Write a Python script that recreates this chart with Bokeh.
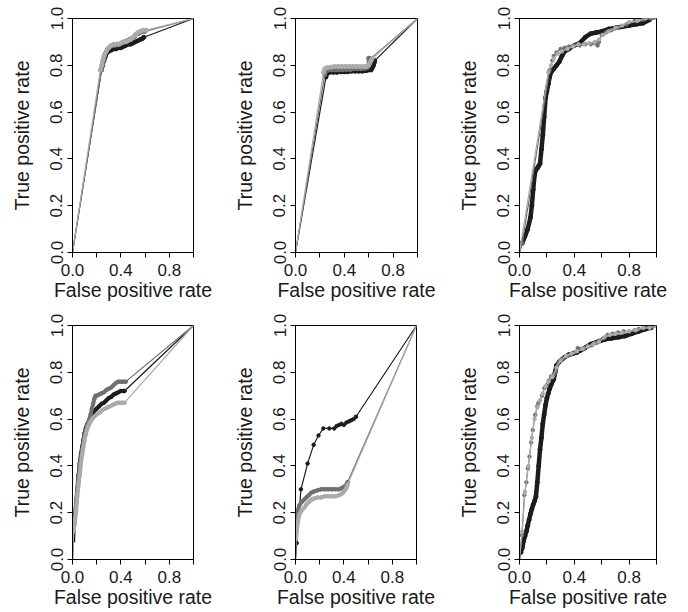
from bokeh.plotting import figure
from bokeh.layouts import row, column
from bokeh.models import FixedTicker
from bokeh.embed import file_html
from bokeh.resources import INLINE

# ---------------- axis data ----------------
x_tick_values = [0.0, 0.2, 0.4, 0.6, 0.8, 1.0]
x_tick_labels = ["0.0", "", "0.4", "", "0.8", ""]
y_tick_values = [0.0, 0.2, 0.4, 0.6, 0.8, 1.0]
y_tick_labels = ["0.0", "0.2", "0.4", "0.6", "0.8", "1.0"]
x_axis_title = "False positive rate"
y_axis_title = "True positive rate"

# ---------------- panel 1 ----------------
p1_black_fpr = [0.0, 0.24, 0.25, 0.26, 0.27, 0.28, 0.30, 0.32, 0.34, 0.36, 0.38, 0.40, 0.42, 0.44, 0.46, 0.48, 0.50, 0.52, 0.54, 0.56, 0.58, 0.59, 1.0]
p1_black_tpr = [0.0, 0.78, 0.80, 0.82, 0.835, 0.85, 0.86, 0.865, 0.87, 0.87, 0.875, 0.875, 0.88, 0.885, 0.89, 0.89, 0.895, 0.90, 0.905, 0.91, 0.915, 0.92, 1.0]
p1_dgray_fpr = [0.0, 0.24, 0.25, 0.26, 0.27, 0.29, 0.31, 0.33, 0.35, 0.37, 0.39, 0.41, 0.43, 0.45, 0.47, 0.49, 0.51, 0.52, 0.54, 0.56, 0.58, 0.60, 1.0]
p1_dgray_tpr = [0.0, 0.78, 0.80, 0.83, 0.85, 0.87, 0.88, 0.885, 0.885, 0.89, 0.89, 0.895, 0.90, 0.905, 0.91, 0.915, 0.92, 0.93, 0.935, 0.94, 0.945, 0.945, 1.0]
p1_lgray_fpr = [0.0, 0.23, 0.24, 0.25, 0.26, 0.28, 0.30, 0.32, 0.34, 0.36, 0.38, 0.40, 0.42, 0.44, 0.46, 0.48, 0.50, 0.52, 0.54, 0.56, 0.58, 0.61, 1.0]
p1_lgray_tpr = [0.0, 0.78, 0.80, 0.82, 0.84, 0.86, 0.875, 0.885, 0.89, 0.89, 0.89, 0.895, 0.90, 0.90, 0.905, 0.91, 0.92, 0.93, 0.94, 0.945, 0.95, 0.95, 1.0]

# ---------------- panel 2 ----------------
p2_black_fpr = [0.0, 0.25, 0.26, 0.28, 0.31, 0.34, 0.37, 0.40, 0.43, 0.46, 0.49, 0.52, 0.55, 0.58, 0.60, 0.62, 0.63, 0.64, 0.645, 0.65, 1.0]
p2_black_tpr = [0.0, 0.75, 0.765, 0.77, 0.77, 0.77, 0.772, 0.772, 0.772, 0.775, 0.775, 0.775, 0.775, 0.777, 0.78, 0.78, 0.79, 0.80, 0.81, 0.82, 1.0]
p2_dgray_fpr = [0.0, 0.24, 0.25, 0.27, 0.30, 0.33, 0.36, 0.39, 0.42, 0.45, 0.48, 0.51, 0.54, 0.57, 0.59, 0.60, 0.60, 0.61, 0.62, 1.0]
p2_dgray_tpr = [0.0, 0.76, 0.775, 0.78, 0.78, 0.78, 0.78, 0.782, 0.782, 0.782, 0.785, 0.785, 0.785, 0.787, 0.79, 0.80, 0.83, 0.83, 0.83, 1.0]
p2_lgray_fpr = [0.0, 0.23, 0.24, 0.26, 0.29, 0.32, 0.35, 0.38, 0.41, 0.44, 0.47, 0.50, 0.53, 0.56, 0.58, 0.60, 0.61, 0.62, 0.63, 1.0]
p2_lgray_tpr = [0.0, 0.77, 0.785, 0.79, 0.792, 0.795, 0.795, 0.795, 0.795, 0.795, 0.795, 0.795, 0.795, 0.795, 0.795, 0.80, 0.81, 0.82, 0.83, 1.0]

# ---------------- panel 3 ----------------
p3_black_fpr = [0.0, 0.02, 0.04, 0.06, 0.08, 0.09, 0.10, 0.11, 0.12, 0.13, 0.14, 0.15, 0.16, 0.17, 0.18, 0.19, 0.20, 0.21, 0.22, 0.23, 0.25, 0.27, 0.29, 0.31, 0.33, 0.36, 0.40, 0.44, 0.48, 0.52, 0.56, 0.60, 0.65, 0.70, 0.75, 0.80, 0.85, 0.90, 0.95, 1.0]
p3_black_tpr = [0.0, 0.04, 0.07, 0.10, 0.15, 0.20, 0.27, 0.33, 0.355, 0.36, 0.37, 0.38, 0.44, 0.50, 0.58, 0.66, 0.69, 0.72, 0.75, 0.77, 0.785, 0.80, 0.815, 0.84, 0.86, 0.87, 0.885, 0.895, 0.92, 0.935, 0.94, 0.945, 0.955, 0.96, 0.965, 0.97, 0.975, 0.98, 0.995, 1.0]
p3_dgray_fpr = [0.0, 0.02, 0.22, 0.24, 0.25, 0.27, 0.30, 0.33, 0.36, 0.40, 0.44, 0.48, 0.52, 0.55, 0.57, 0.58, 0.60, 0.63, 0.67, 0.72, 0.78, 0.84, 0.90, 0.96, 1.0]
p3_dgray_tpr = [0.0, 0.04, 0.78, 0.82, 0.84, 0.855, 0.87, 0.875, 0.88, 0.885, 0.885, 0.89, 0.89, 0.895, 0.885, 0.90, 0.93, 0.94, 0.95, 0.96, 0.975, 0.99, 0.995, 1.0, 1.0]
p3_lgray_fpr = [0.0, 0.21, 0.23, 0.25, 0.28, 0.31, 0.35, 0.39, 0.43, 0.47, 0.51, 0.55, 0.58, 0.61, 0.65, 0.70, 0.75, 0.80, 0.86, 0.92, 1.0]
p3_lgray_tpr = [0.0, 0.77, 0.80, 0.83, 0.85, 0.86, 0.87, 0.88, 0.89, 0.89, 0.895, 0.90, 0.91, 0.93, 0.945, 0.96, 0.97, 0.985, 0.99, 1.0, 1.0]

# ---------------- panel 4 ----------------
p4_black_fpr = [0.0, 0.005, 0.01, 0.02, 0.03, 0.04, 0.05, 0.06, 0.07, 0.08, 0.09, 0.10, 0.11, 0.12, 0.13, 0.14, 0.16, 0.18, 0.20, 0.22, 0.24, 0.26, 0.28, 0.30, 0.32, 0.34, 0.36, 0.38, 0.40, 0.42, 0.43, 1.0]
p4_black_tpr = [0.0, 0.08, 0.13, 0.18, 0.24, 0.30, 0.36, 0.41, 0.45, 0.48, 0.51, 0.54, 0.56, 0.575, 0.585, 0.595, 0.615, 0.635, 0.645, 0.655, 0.665, 0.67, 0.68, 0.69, 0.695, 0.705, 0.71, 0.715, 0.72, 0.72, 0.72, 1.0]
p4_dgray_fpr = [0.0, 0.01, 0.02, 0.03, 0.04, 0.05, 0.06, 0.07, 0.08, 0.09, 0.10, 0.11, 0.12, 0.13, 0.14, 0.15, 0.16, 0.17, 0.18, 0.19, 0.20, 0.22, 0.24, 0.26, 0.28, 0.30, 0.32, 0.34, 0.36, 0.38, 0.40, 0.42, 0.44, 1.0]
p4_dgray_tpr = [0.0, 0.12, 0.18, 0.24, 0.30, 0.35, 0.40, 0.44, 0.47, 0.50, 0.53, 0.55, 0.57, 0.585, 0.60, 0.62, 0.645, 0.665, 0.685, 0.70, 0.70, 0.705, 0.71, 0.715, 0.725, 0.73, 0.735, 0.745, 0.755, 0.76, 0.76, 0.76, 0.76, 1.0]
p4_lgray_fpr = [0.0, 0.01, 0.02, 0.03, 0.04, 0.05, 0.06, 0.07, 0.08, 0.09, 0.10, 0.11, 0.12, 0.13, 0.14, 0.15, 0.17, 0.19, 0.21, 0.23, 0.25, 0.27, 0.29, 0.31, 0.33, 0.35, 0.37, 0.39, 0.41, 0.43, 1.0]
p4_lgray_tpr = [0.0, 0.12, 0.17, 0.21, 0.27, 0.32, 0.36, 0.41, 0.45, 0.48, 0.51, 0.535, 0.555, 0.57, 0.58, 0.59, 0.605, 0.615, 0.625, 0.63, 0.64, 0.645, 0.65, 0.655, 0.66, 0.665, 0.67, 0.67, 0.67, 0.67, 1.0]

# ---------------- panel 5 ----------------
p5_black_fpr = [0.0, 0.01, 0.045, 0.10, 0.15, 0.19, 0.23, 0.28, 0.32, 0.34, 0.36, 0.38, 0.40, 0.42, 0.44, 0.46, 0.48, 0.50, 1.0]
p5_black_tpr = [0.0, 0.07, 0.30, 0.41, 0.49, 0.53, 0.56, 0.56, 0.56, 0.57, 0.575, 0.58, 0.575, 0.585, 0.59, 0.595, 0.60, 0.61, 1.0]
p5_dgray_fpr = [0.0, 0.005, 0.01, 0.02, 0.03, 0.05, 0.07, 0.09, 0.11, 0.13, 0.15, 0.18, 0.21, 0.24, 0.27, 0.30, 0.33, 0.36, 0.38, 0.40, 0.42, 0.43, 1.0]
p5_dgray_tpr = [0.0, 0.13, 0.17, 0.21, 0.23, 0.245, 0.255, 0.265, 0.275, 0.285, 0.29, 0.295, 0.30, 0.30, 0.30, 0.30, 0.30, 0.30, 0.305, 0.31, 0.32, 0.33, 1.0]
p5_lgray_fpr = [0.0, 0.005, 0.01, 0.02, 0.03, 0.05, 0.07, 0.09, 0.11, 0.13, 0.15, 0.18, 0.21, 0.24, 0.27, 0.30, 0.33, 0.36, 0.38, 0.40, 0.42, 0.43, 1.0]
p5_lgray_tpr = [0.0, 0.09, 0.12, 0.16, 0.19, 0.21, 0.22, 0.235, 0.245, 0.255, 0.26, 0.265, 0.265, 0.27, 0.27, 0.27, 0.27, 0.275, 0.28, 0.29, 0.305, 0.32, 1.0]

# ---------------- panel 6 ----------------
p6_black_fpr = [0.0, 0.01, 0.02, 0.03, 0.04, 0.05, 0.06, 0.07, 0.08, 0.09, 0.10, 0.11, 0.12, 0.13, 0.14, 0.15, 0.16, 0.17, 0.18, 0.19, 0.20, 0.21, 0.22, 0.23, 0.24, 0.25, 0.26, 0.27, 0.29, 0.31, 0.33, 0.36, 0.39, 0.42, 0.45, 0.48, 0.52, 0.57, 0.62, 0.67, 0.72, 0.77, 0.82, 0.87, 0.92, 0.96, 1.0]
p6_black_tpr = [0.0, 0.03, 0.05, 0.08, 0.10, 0.12, 0.145, 0.17, 0.195, 0.215, 0.235, 0.25, 0.27, 0.33, 0.40, 0.47, 0.52, 0.58, 0.62, 0.66, 0.69, 0.71, 0.73, 0.745, 0.76, 0.77, 0.80, 0.83, 0.845, 0.855, 0.865, 0.875, 0.88, 0.885, 0.895, 0.905, 0.92, 0.93, 0.94, 0.945, 0.95, 0.955, 0.965, 0.975, 0.985, 0.99, 1.0]
p6_dgray_fpr = [0.0, 0.017, 0.036, 0.05, 0.061, 0.073, 0.085, 0.097, 0.114, 0.13, 0.138, 0.15, 0.165, 0.182, 0.2, 0.215, 0.23, 0.25, 0.265, 0.28, 0.30, 0.32, 0.345, 0.37, 0.40, 0.425, 0.45, 0.475, 0.50, 0.525, 0.55, 0.58, 0.61, 0.643, 0.68, 0.72, 0.76, 0.80, 0.84, 0.87, 0.91, 0.95, 1.0]
p6_dgray_tpr = [0.0, 0.104, 0.275, 0.33, 0.389, 0.44, 0.50, 0.553, 0.618, 0.655, 0.668, 0.68, 0.70, 0.732, 0.746, 0.765, 0.782, 0.79, 0.80, 0.839, 0.85, 0.86, 0.87, 0.875, 0.885, 0.903, 0.90, 0.905, 0.91, 0.915, 0.925, 0.935, 0.945, 0.96, 0.965, 0.97, 0.975, 0.975, 0.98, 0.985, 0.99, 0.99, 0.995]
p6_lgray_fpr = [0.0, 0.02, 0.04, 0.065, 0.09, 0.11, 0.13, 0.15, 0.17, 0.19, 0.21, 0.24, 0.27, 0.30, 0.34, 0.38, 0.42, 0.46, 0.50, 0.54, 0.58, 0.62, 0.66, 0.70, 0.75, 0.80, 0.85, 0.90, 0.95, 1.0]
p6_lgray_tpr = [0.0, 0.12, 0.29, 0.40, 0.52, 0.60, 0.65, 0.68, 0.71, 0.74, 0.76, 0.78, 0.82, 0.85, 0.87, 0.88, 0.89, 0.90, 0.91, 0.92, 0.93, 0.95, 0.96, 0.965, 0.97, 0.975, 0.98, 0.99, 0.99, 1.0]

BLACK = "#1c1c1c"
DGRAY = "#707070"
LGRAY = "#ababab"
TEXT = "#1a1a1a"
FONT = "Liberation Sans"


def make_panel(frame_w, left, right, top, bottom, series):
    p = figure(frame_width=frame_w, frame_height=234,
               min_border_left=left, min_border_right=right,
               min_border_top=top, min_border_bottom=bottom,
               x_range=(0, 1), y_range=(0, 1),
               output_backend="svg", toolbar_location=None, tools="")
    p.background_fill_color = "white"
    p.border_fill_color = "white"
    p.outline_line_color = "black"
    p.outline_line_width = 1
    p.xgrid.visible = False
    p.ygrid.visible = False

    p.xaxis.ticker = FixedTicker(ticks=x_tick_values)
    p.xaxis.major_label_overrides = dict(zip(x_tick_values, x_tick_labels))
    p.yaxis.ticker = FixedTicker(ticks=y_tick_values)
    p.yaxis.major_label_overrides = dict(zip(y_tick_values, y_tick_labels))
    p.yaxis.major_label_orientation = "vertical"
    p.xaxis.axis_label = x_axis_title
    p.yaxis.axis_label = y_axis_title
    for ax in (p.xaxis, p.yaxis):
        ax.axis_line_color = "black"
        ax.major_tick_line_color = "black"
        ax.major_tick_out = 5
        ax.major_tick_in = 0
        ax.minor_tick_line_color = None
        ax.major_label_text_font = FONT
        ax.major_label_text_font_size = "17px"
        ax.major_label_text_color = TEXT
        ax.axis_label_text_font = FONT
        ax.axis_label_text_font_size = "19.5px"
        ax.axis_label_text_font_style = "normal"
        ax.axis_label_text_color = TEXT
    p.xaxis.major_label_standoff = 6
    p.xaxis.axis_label_standoff = 0
    p.yaxis.major_label_standoff = 5
    p.yaxis.axis_label_standoff = 15

    for fpr, tpr, color, band, ms in series:
        # thin connecting line through every point (incl. the (0,0) and (1,1) ends)
        p.line(fpr, tpr, line_color=color, line_width=1.2)
        # thick band through the interior points
        if band > 0:
            p.line(fpr[1:-1], tpr[1:-1], line_color=color, line_width=band,
                   line_join="round", line_cap="round")
        if ms > 0:
            p.scatter(fpr[1:-1], tpr[1:-1], size=ms, fill_color=color, line_color=color)
    return p


f1 = make_panel(121, 72, 37, 17, 55, [
    (p1_black_fpr, p1_black_tpr, BLACK, 4, 4),
    (p1_dgray_fpr, p1_dgray_tpr, DGRAY, 4, 4),
    (p1_lgray_fpr, p1_lgray_tpr, LGRAY, 4, 4)])
f2 = make_panel(122, 61, 37, 18, 54, [
    (p2_black_fpr, p2_black_tpr, BLACK, 4, 4),
    (p2_dgray_fpr, p2_dgray_tpr, DGRAY, 4, 4),
    (p2_lgray_fpr, p2_lgray_tpr, LGRAY, 4, 4)])
f3 = make_panel(137, 63, 30, 17, 55, [
    (p3_black_fpr, p3_black_tpr, BLACK, 4.5, 4),
    (p3_dgray_fpr, p3_dgray_tpr, DGRAY, 0, 3.5),
    (p3_lgray_fpr, p3_lgray_tpr, LGRAY, 0, 3.5)])
f4 = make_panel(121, 72, 37, 19, 45, [
    (p4_black_fpr, p4_black_tpr, BLACK, 4, 3.5),
    (p4_dgray_fpr, p4_dgray_tpr, DGRAY, 4, 3.5),
    (p4_lgray_fpr, p4_lgray_tpr, LGRAY, 4, 3.5)])
f5 = make_panel(121, 61, 38, 19, 45, [
    (p5_black_fpr, p5_black_tpr, BLACK, 0, 3.5),
    (p5_dgray_fpr, p5_dgray_tpr, DGRAY, 4, 3.5),
    (p5_lgray_fpr, p5_lgray_tpr, LGRAY, 4, 3.5)])
f6 = make_panel(137, 63, 30, 18, 46, [
    (p6_black_fpr, p6_black_tpr, BLACK, 4.5, 4),
    (p6_dgray_fpr, p6_dgray_tpr, DGRAY, 0, 3.5),
    (p6_lgray_fpr, p6_lgray_tpr, LGRAY, 0, 3.5)])

layout = column(row(f1, f2, f3, spacing=0), row(f4, f5, f6, spacing=0), spacing=0)

open("out.html", "w").write(file_html(layout, INLINE))
